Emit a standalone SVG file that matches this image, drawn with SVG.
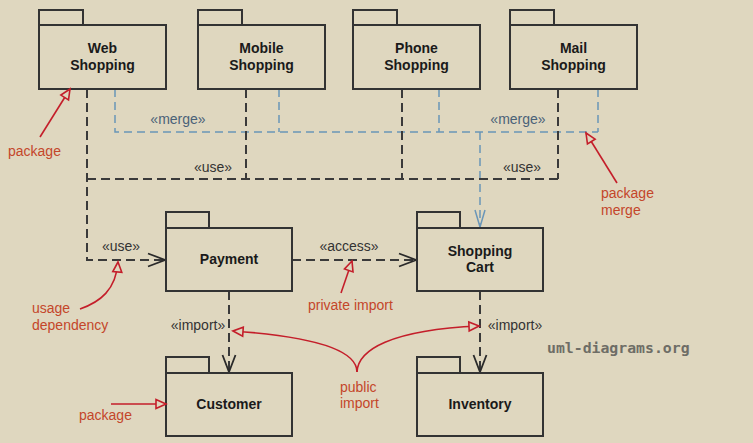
<svg xmlns="http://www.w3.org/2000/svg" width="753" height="443" viewBox="0 0 753 443">
<style>
.bg{fill:#DFD7BF}
.pk{fill:none;stroke:#333;stroke-width:2}
.nm{font-family:"Liberation Sans",Arial,sans-serif;font-size:14px;font-weight:bold;fill:#1a1a1a;text-anchor:middle}
.st{font-family:"Liberation Sans",Arial,sans-serif;font-size:14px;fill:#333}
.mg{font-family:"Liberation Sans",Arial,sans-serif;font-size:14px;fill:#4a6278}
.an{font-family:"Liberation Sans",Arial,sans-serif;font-size:14px;fill:#C4462A}
.dep{fill:none;stroke:#3a3a3a;stroke-width:2;stroke-dasharray:9,5}
.mrg{fill:none;stroke:#6A96B8;stroke-width:1.5;stroke-dasharray:8,5}
.red{fill:none;stroke:#C41E2A;stroke-width:1.6}
.wm{font-family:"DejaVu Sans Mono",monospace;font-size:14.8px;font-weight:bold;fill:#6e6d66}
</style>
<defs>
<marker id="openB" markerUnits="userSpaceOnUse" viewBox="-19 -8 21 16" refX="0" refY="0" markerWidth="21" markerHeight="16" orient="auto">
<path d="M-17,-6.5 L0,0 L-17,6.5" fill="none" stroke="#2a2a2a" stroke-width="1.8"/>
</marker>
<marker id="openBl" markerUnits="userSpaceOnUse" viewBox="-19 -8 21 16" refX="0" refY="0" markerWidth="21" markerHeight="16" orient="auto">
<path d="M-17,-5 L0,0 L-17,5" fill="none" stroke="#6A96B8" stroke-width="1.5"/>
</marker>
<marker id="triR" markerUnits="userSpaceOnUse" viewBox="-12 -7 14 14" refX="0" refY="0" markerWidth="14" markerHeight="14" orient="auto">
<path d="M0,0 L-10,-4.5 L-10,4.5 Z" fill="#DFD7BF" stroke="#C41E2A" stroke-width="1.6"/>
</marker>
</defs>
<rect class="bg" x="0" y="0" width="753" height="443"/>

<g id="connectors">
<path class="mrg" d="M115,89 V132 H598"/>
<path class="mrg" d="M279,89 V132"/>
<path class="mrg" d="M439,89 V132"/>
<path class="mrg" d="M598,89 V132"/>
<path class="mrg" d="M480,132 V227" marker-end="url(#openBl)"/>
<path class="dep" d="M87,89 V260 H165" marker-end="url(#openB)"/>
<path class="dep" d="M87,179 H558"/>
<path class="dep" d="M246,89 V179"/>
<path class="dep" d="M402,89 V179"/>
<path class="dep" d="M558,89 V179"/>
<path class="dep" d="M292,260 H416" marker-end="url(#openB)"/>
<path class="dep" d="M229,291 V372" marker-end="url(#openB)"/>
<path class="dep" d="M480,291 V372" marker-end="url(#openB)"/>
<text class="mg" x="178" y="124" text-anchor="middle">«merge»</text>
<text class="mg" x="518" y="124" text-anchor="middle">«merge»</text>
<text class="st" x="213" y="172" text-anchor="middle">«use»</text>
<text class="st" x="522" y="172" text-anchor="middle">«use»</text>
<text class="st" x="121" y="251" text-anchor="middle">«use»</text>
<text class="st" x="349" y="251" text-anchor="middle">«access»</text>
<text class="st" x="198" y="330" text-anchor="middle">«import»</text>
<text class="st" x="515" y="330" text-anchor="middle">«import»</text>
</g>

<g id="web-shopping">
<rect class="pk" x="39" y="10" width="44" height="15"/>
<rect class="pk" x="39" y="25" width="127" height="64"/>
<text class="nm" x="102.5" y="53">Web</text>
<text class="nm" x="102.5" y="70">Shopping</text>
</g>
<g id="mobile-shopping">
<rect class="pk" x="198" y="10" width="44" height="15"/>
<rect class="pk" x="198" y="25" width="127" height="64"/>
<text class="nm" x="261.5" y="53">Mobile</text>
<text class="nm" x="261.5" y="70">Shopping</text>
</g>
<g id="phone-shopping">
<rect class="pk" x="353" y="10" width="44" height="15"/>
<rect class="pk" x="353" y="25" width="127" height="64"/>
<text class="nm" x="416.5" y="53">Phone</text>
<text class="nm" x="416.5" y="70">Shopping</text>
</g>
<g id="mail-shopping">
<rect class="pk" x="510" y="10" width="44" height="15"/>
<rect class="pk" x="510" y="25" width="127" height="64"/>
<text class="nm" x="573.5" y="53">Mail</text>
<text class="nm" x="573.5" y="70">Shopping</text>
</g>
<g id="payment">
<rect class="pk" x="166" y="212" width="43" height="16"/>
<rect class="pk" x="166" y="228" width="126" height="63"/>
<text class="nm" x="229" y="264">Payment</text>
</g>
<g id="shopping-cart">
<rect class="pk" x="417" y="212" width="43" height="16"/>
<rect class="pk" x="417" y="228" width="126" height="63"/>
<text class="nm" x="480" y="256">Shopping</text>
<text class="nm" x="480" y="272">Cart</text>
</g>
<g id="customer">
<rect class="pk" x="166" y="357" width="43" height="16"/>
<rect class="pk" x="166" y="373" width="126" height="63"/>
<text class="nm" x="229" y="409">Customer</text>
</g>
<g id="inventory">
<rect class="pk" x="417" y="357" width="43" height="16"/>
<rect class="pk" x="417" y="373" width="126" height="63"/>
<text class="nm" x="480" y="409">Inventory</text>
</g>

<g id="annotations">
<path class="red" d="M40,137 L70,89" marker-end="url(#triR)"/>
<text class="an" x="8" y="156">package</text>
<path class="red" d="M617,183 L586,133" marker-end="url(#triR)"/>
<text class="an" x="601" y="198">package</text>
<text class="an" x="601" y="215">merge</text>
<path class="red" d="M80,309 C100,302 116,290 118,262" marker-end="url(#triR)"/>
<text class="an" x="32" y="313">usage</text>
<text class="an" x="32" y="330">dependency</text>
<path class="red" d="M341,293 L352,261" marker-end="url(#triR)"/>
<text class="an" x="308" y="310">private import</text>
<path class="red" d="M357,372 C357,352 320,337 233,331" marker-end="url(#triR)"/>
<path class="red" d="M357,372 C358,350 390,330 479,326" marker-end="url(#triR)"/>
<text class="an" x="340" y="392">public</text>
<text class="an" x="340" y="408">import</text>
<path class="red" d="M111,404 L166,404" marker-end="url(#triR)"/>
<text class="an" x="79" y="420">package</text>
</g>

<text class="wm" x="547" y="353">uml-diagrams.org</text>
</svg>
